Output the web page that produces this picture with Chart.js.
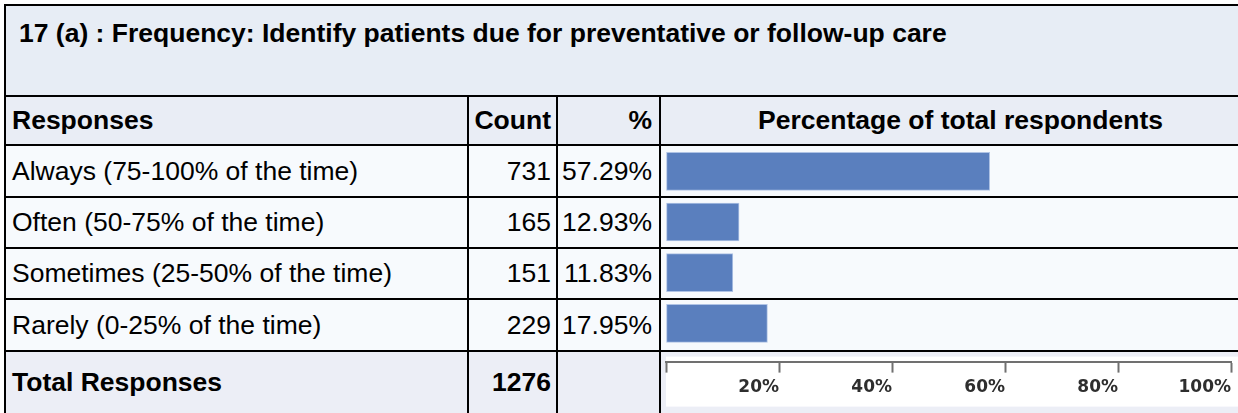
<!DOCTYPE html>
<html>
<head>
<meta charset="utf-8">
<title>17 (a) : Frequency</title>
<script src="https://cdn.jsdelivr.net/npm/chart.js@4.4.0/dist/chart.umd.min.js"></script>
<style>
  * { box-sizing: border-box; }
  html, body { margin: 0; padding: 0; background: #fff; overflow: hidden; }
  body { width: 1238px; height: 413px; position: relative; font-family: "Liberation Sans", Arial, Helvetica, sans-serif; }

  /* black background + gaps give the table rules */
  .survey {
    position: absolute; left: 4px; top: 4px;
    display: grid;
    grid-template-columns: 461px 87px 101px 599px;
    grid-template-rows: 89px 47px 50px 49px 49px 50px 61px;
    gap: 2px; padding: 2px;
    background: #000;
  }
  .survey > div {
    display: flex; align-items: center;
    font-size: 26.5px; color: #000;
    white-space: nowrap; overflow: hidden;
  }
  .survey .title { grid-column: 1 / 5; background: #e7edf5; align-items: flex-start; padding: 12px 0 0 13px; font-weight: bold; }
  .survey .head { background: #e9edf5; font-weight: bold; }
  .survey .row { background: #f7fafd; }
  .survey .total { background: #eceef6; font-weight: bold; }
  .survey .l { padding-left: 6px; }
  .survey .r { justify-content: flex-end; padding-right: 5px; }
  .survey .pr { justify-content: flex-end; padding-right: 7px; }
  .survey .c { justify-content: center; }

  #barWrap { position: absolute; left: 661px; top: 146px; width: 577px; height: 267px; }
</style>
</head>
<body>
<div class="survey" id="survey"></div>
<div id="barWrap"><canvas id="pctChart" width="577" height="267"></canvas></div>

<script>
const questionTitle = '17 (a) : Frequency: Identify patients due for preventative or follow-up care';
const responses = [
  'Always (75-100% of the time)',
  'Often (50-75% of the time)',
  'Sometimes (25-50% of the time)',
  'Rarely (0-25% of the time)'
];
const counts = [731, 165, 151, 229];
const percents = [57.29, 12.93, 11.83, 17.95];
const totalCount = 1276;
const axisTicks = [20, 40, 60, 80, 100];

document.addEventListener('DOMContentLoaded', function() {
  const survey = document.getElementById('survey');

  const cell = (cls, text) => {
    const d = document.createElement('div');
    d.className = cls;
    d.textContent = text;
    survey.appendChild(d);
  };

  cell('title', questionTitle);

  cell('head l', 'Responses');
  cell('head r', 'Count');
  cell('head pr', '%');
  cell('head c', 'Percentage of total respondents');

  responses.forEach((label, i) => {
    cell('row l', label);
    cell('row r', counts[i]);
    cell('row pr', percents[i].toFixed(2) + '%');
    cell('row', '');
  });

  cell('total l', 'Total Responses');
  cell('total r', totalCount);
  cell('total', '');
  cell('total', '');

  // white strip behind the percentage axis
  const axisPanel = {
    id: 'axisPanel',
    beforeDraw(chart) {
      const { ctx, chartArea, width } = chart;
      ctx.save();
      ctx.fillStyle = '#ffffff';
      ctx.fillRect(chartArea.left, chartArea.bottom - 5, width - chartArea.left, 50);
      ctx.restore();
    }
  };

  const ctx = document.getElementById('pctChart').getContext('2d');
  new Chart(ctx, {
    type: 'bar',
    data: {
      datasets: [{
        data: percents.map((p, i) => ({ x: p, y: i })),
        backgroundColor: '#5a7fbe',
        borderColor: '#afc3e5',
        borderWidth: 1,
        borderSkipped: false,
        barThickness: 38
      }]
    },
    options: {
      indexAxis: 'y',
      responsive: false,
      animation: false,
      layout: { padding: { left: 5, right: 7, top: 0, bottom: 10 } },
      plugins: {
        legend: { display: false },
        tooltip: { enabled: false }
      },
      scales: {
        // one unit per table row, stretched past the last row down to the axis line
        y: {
          type: 'linear',
          reverse: true,
          offset: false,
          min: -0.5,
          max: 3.755,
          display: false
        },
        x: {
          type: 'linear',
          min: 0,
          max: 100,
          afterBuildTicks: axis => {
            axis.ticks = [0, ...axisTicks].map(v => ({ value: v }));
          },
          grid: { drawOnChartArea: false, tickLength: 11, tickColor: '#707070', tickWidth: 2 },
          border: { color: '#707070', width: 2 },
          ticks: {
            align: 'end',
            padding: 5,
            autoSkip: false,
            maxRotation: 0,
            color: '#2e2e2e',
            font: { family: 'DejaVu Sans', size: 17, weight: 'bold' },
            callback: v => v === 0 ? '' : v + '%'
          }
        }
      }
    },
    plugins: [axisPanel]
  });
});
</script>
</body>
</html>
